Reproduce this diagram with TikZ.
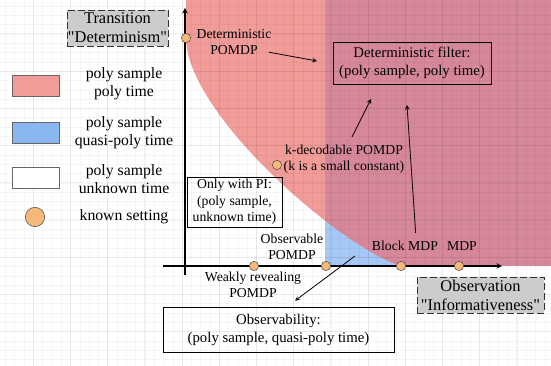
\documentclass[tikz,border=0pt]{standalone}
\usepackage{fontspec}
\setmainfont[Ligatures=TeXOff]{Liberation Serif}
\usepackage{tikz}
\usetikzlibrary{positioning}
\definecolor{salmon}{HTML}{F19C99}
\definecolor{mauve}{HTML}{D6889A}
\definecolor{skyblue}{HTML}{A6C8F5}
\definecolor{legblue}{HTML}{8AB6F2}
\definecolor{dotorange}{HTML}{F6B87A}
\definecolor{boxgray}{HTML}{CCCCCC}

\begin{document}
\begin{tikzpicture}[x=0.75pt, y=-0.75pt, >=stealth,
    lab/.style={font=\fontsize{10.3}{12}\selectfont, align=center, inner sep=0pt},
    legtxt/.style={font=\fontsize{11.8}{13.5}\selectfont, align=center, inner sep=0pt},
    result/.style={draw, font=\fontsize{11.1}{13.5}\selectfont, align=center, inner sep=0pt},
    axtitle/.style={draw=black!80, dash pattern=on 5pt off 2.5pt, fill=boxgray,
        font=\fontsize{12.3}{14.3}\selectfont, align=center, inner sep=0pt},
    known/.style={circle, draw=black!70, fill=dotorange, inner sep=0pt, minimum size=7pt},
    legbox/.style={draw=black!60, minimum width=35.25pt, minimum height=15.75pt, inner sep=0pt}]
    \useasboundingbox (0,0) rectangle (551,366);
    % regions
    \fill[skyblue] (325,0) rectangle (551,266);
    \fill[salmon] (186,0) -- (186,38) .. controls (186,110) and (330,240) .. (400,266)
        -- (551,266) -- (551,0) -- cycle;
    \begin{scope}
        \clip (325,0) rectangle (551,266);
        \fill[mauve] (186,0) -- (186,38) .. controls (186,110) and (330,240) .. (400,266)
            -- (551,266) -- (551,0) -- cycle;
    \end{scope}
    % grid
    \foreach \i in {0,...,59} \draw[black, opacity=.035, line width=.4pt] ({-3.9+9.3*\i},0) -- ++(0,366);
    \foreach \j in {0,...,40} \draw[black, opacity=.035, line width=.4pt] (0,{-3.2+9.3*\j}) -- ++(551,0);
    \foreach \i in {0,...,15} \draw[black, opacity=.06, line width=.75pt] ({-3.9+37.2*\i},0) -- ++(0,366);
    \foreach \j in {0,...,10} \draw[black, opacity=.06, line width=.75pt] (0,{-3.2+37.2*\j}) -- ++(551,0);
    % axes
    \draw[thick,->] (163,266) -- (502,266);
    \draw[thick,->] (185,275) -- (185,8);
    \node[axtitle, minimum width=75.75pt, minimum height=27pt] (trans) at (117.5,28) {Transition\\"Determinism"};
    \node[axtitle, minimum width=95.25pt, minimum height=27pt] (obsv) at (480.5,295) {Observation\\"Informativeness"};
    % legend
    \node[legbox, fill=salmon] (legRed) at (35.5,85.5) {};
    \node[legbox, fill=legblue] (legBlue) at (35.5,132.5) {};
    \node[legbox, fill=white] (legWhite) at (35.5,178) {};
    \node[known, minimum size=14.5pt] (legDot) at (35,217) {};
    \node[legtxt] (legRedTxt) at (124,84) {poly sample\\poly time};
    \node[legtxt] (legBlueTxt) at (124,133) {poly sample\\quasi-poly time};
    \node[legtxt] (legWhiteTxt) at (124,179) {poly sample\\unknown time};
    \node[legtxt] (legDotTxt) at (124,217) {known setting};
    % result boxes
    \node[result, minimum width=118.5pt, minimum height=31.5pt] (filter) at (412,63) {Deterministic filter:\\(poly sample, poly time)};
    \node[result, font=\fontsize{10.3}{12.4}\selectfont, minimum width=71.25pt, minimum height=37.5pt] (onlypi) at (234.5,202) {Only with PI:\\(poly sample,\\unknown time)};
    \node[result, minimum width=173.25pt, minimum height=33.75pt] (observ) at (278.5,329.5) {Observability:\\(poly sample, quasi-poly time)};
    % known settings
    \node[known] (dDet) at (186,38) {};
    \node[known] (dK) at (277,165) {};
    \node[known] (dWeak) at (254,266) {};
    \node[known] (dObs) at (326,266) {};
    \node[known] (dBlock) at (401,266) {};
    \node[known] (dMdp) at (459,266) {};
    \node[lab] (detlab) at (234,42) {Deterministic\\POMDP};
    \node[lab] (klab) at (344,159.5) {k-decodable POMDP\\(k is a small constant)};
    \node[lab] (obslab) at (292,247) {Observable\\POMDP};
    \node[lab] (weaklab) at (253,284.5) {Weakly revealing\\POMDP};
    \node[lab] (blocklab) at (405,246) {Block MDP};
    \node[lab] (mdplab) at (462,246) {MDP};
    % pointers
    \coordinate (detend) at (317,61);
    \coordinate (kend) at (371,99);
    \coordinate (blockend) at (407,105);
    \coordinate (bluept) at (355,256);
    \draw[semithick,->] ([xshift=-2pt,yshift=2pt]detlab.south east) -- (detend);
    \draw[semithick,->] ([xshift=6pt,yshift=6pt]klab.north) -- (kend);
    \draw[semithick,->] ([xshift=8pt,yshift=6pt]blocklab.north) -- (blockend);
    \draw[semithick,->] (bluept) -- ([xshift=12.4pt,yshift=4.5pt]observ.north);
\end{tikzpicture}
\end{document}
